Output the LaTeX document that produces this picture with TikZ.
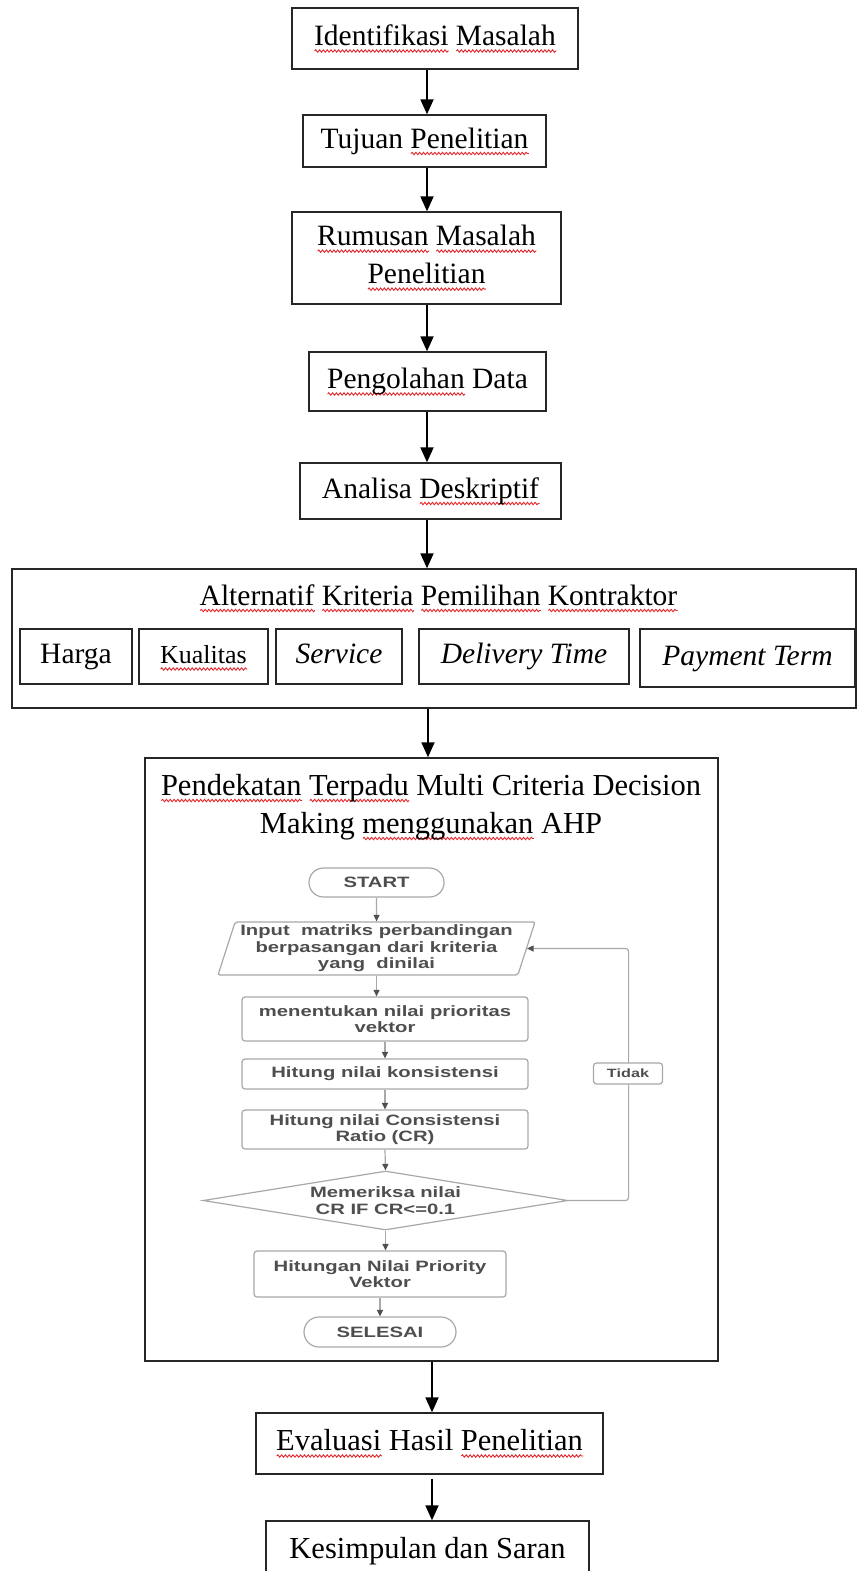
\documentclass[tikz,border=0pt]{standalone}
\usepackage{fontspec}
\setmainfont{Liberation Serif}
\newfontfamily\flowfont[FakeStretch=1.35]{Liberation Sans}
\usetikzlibrary{arrows.meta,shapes.geometric,calc,decorations.pathmorphing}

\definecolor{squig}{HTML}{E3262B}
\definecolor{flowtext}{HTML}{4E4E4E}
\definecolor{flowline}{HTML}{A8A8A8}
\definecolor{flowhead}{HTML}{505050}

% red wavy underline used on the spell-flagged words
\newlength\sqw
\newcommand\sq[1]{\settowidth\sqw{#1}\makebox[0pt][l]{\raisebox{-5.5pt}{\tikz[baseline=0pt]
  \draw[squig, line width=0.9pt, decorate, decoration={snake, amplitude=1.2pt, segment length=3.8pt}]
  (0pt,0pt) -- (\sqw,0pt);}}#1}
\newcommand\mainsize{\fontsize{29.5}{38}\selectfont}
\newcommand\lowsize{\fontsize{30.5}{38}\selectfont}
\newcommand\flowsize{\flowfont\bfseries\fontsize{15}{16.5}\selectfont}

\begin{document}
\begin{tikzpicture}[x=1pt,y=-1pt,
  mainbox/.style={draw=black!85, line width=1.3pt, inner sep=0pt, font=\mainsize, align=center},
  oneline/.style={text height=20pt, text depth=6pt},
  marrow/.style={line width=1.8pt, -{Triangle[length=15pt,width=13pt]}},
  fbox/.style={draw=flowline, line width=1.2pt, rounded corners=3pt, inner sep=0pt,
    font=\flowsize, text=flowtext, align=center},
  farrow/.style={draw=flowline, line width=1.2pt, -{Triangle[length=6.5pt,width=6pt,color=flowhead]}}
]
\useasboundingbox (0,0) rectangle (857,1571);

% axes of the main arrow column
\coordinate (axisA) at (427,0);
\coordinate (axisB) at (428,0);
\coordinate (axisC) at (432,0);

% ---------- main steps ----------
\node[mainbox, oneline, minimum width=286pt, minimum height=61pt] (n1) at (435,38.5)
  {\sq{Identifikasi} \sq{Masalah}};
\node[mainbox, oneline, minimum width=243pt, minimum height=52pt] (n2) at (424.5,141)
  {Tujuan \sq{Penelitian}};
\node[mainbox, minimum width=269pt, minimum height=92pt] (n3) at (426.5,258)
  {\sq{Rumusan} \sq{Masalah}\\\sq{Penelitian}};
\node[mainbox, oneline, minimum width=237pt, minimum height=59pt] (n4) at (427.5,381.5)
  {\sq{Pengolahan} Data};
\node[mainbox, oneline, minimum width=261pt, minimum height=56pt] (n5) at (430.5,491)
  {Analisa \sq{Deskriptif}};

% criteria group
\node[mainbox, minimum width=844pt, minimum height=139pt] (n6) at (434,638.5) {};
\node[font=\mainsize, oneline, inner sep=0pt] (kri) at (438.5,598)
  {\sq{Alternatif} \sq{Kriteria} \sq{Pemilihan} \sq{Kontraktor}};
\node[mainbox, oneline, minimum width=112pt, minimum height=55pt] (c1) at (76,656.5) {Harga};
\node[mainbox, oneline, minimum width=129pt, minimum height=55pt, font=\fontsize{26}{30}\selectfont] (c2) at (203.5,656.5) {\sq{Kualitas}};
\node[mainbox, oneline, minimum width=126pt, minimum height=55pt] (c3) at (339,656.5) {\textit{Service}};
\node[mainbox, oneline, minimum width=210pt, minimum height=55pt] (c4) at (524,656.5) {\textit{Delivery Time}};
\node[mainbox, oneline, minimum width=215pt, minimum height=58pt] (c5) at (747.5,658) {\textit{Payment Term}};

% AHP group
\node[mainbox, line width=1.5pt, minimum width=573pt, minimum height=603pt] (n7) at (431.5,1059.5) {};
\node[font=\lowsize, align=center, inner sep=0pt] (ahpt) at (431,807)
  {\sq{Pendekatan} \sq{Terpadu} Multi Criteria Decision\\Making \sq{menggunakan} AHP};

\node[mainbox, oneline, font=\lowsize, minimum width=347pt, minimum height=61pt] (n8) at (429.5,1443.5)
  {\sq{Evaluasi} Hasil \sq{Penelitian}};
\node[mainbox, oneline, font=\lowsize, minimum width=323pt, minimum height=60pt] (n9) at (427.5,1551)
  {Kesimpulan dan Saran};

% ---------- main arrows ----------
\draw[marrow] (n1.south -| axisA) -- (n2.north -| axisA);
\draw[marrow] (n2.south -| axisA) -- (n3.north -| axisA);
\draw[marrow] (n3.south -| axisA) -- (n4.north -| axisA);
\draw[marrow] (n4.south -| axisA) -- (n5.north -| axisA);
\draw[marrow] (n5.south -| axisA) -- (n6.north -| axisA);
\draw[marrow] (n6.south -| axisB) -- (n7.north -| axisB);
\draw[marrow] (n7.south -| axisC) -- (n8.north -| axisC);
\draw[marrow, shorten <=4pt] (n8.south -| axisC) -- (n9.north -| axisC);

% ---------- AHP procedure ----------
\node[fbox, rounded corners=14.5pt, minimum width=135pt, minimum height=29pt] (start) at (376.5,882.5) {START};
\node[fbox, trapezium, trapezium left angle=70, trapezium right angle=110, trapezium stretches body,
  rounded corners=2pt, minimum width=317pt, minimum height=53pt] (inp) at (376.5,948.5)
  {Input\ \ matriks perbandingan\\berpasangan dari kriteria\\yang\ \ dinilai};
\node[fbox, minimum width=286pt, minimum height=44pt] (ment) at (385,1019)
  {menentukan nilai prioritas\\vektor};
\node[fbox, minimum width=286pt, minimum height=30pt] (kons) at (385,1074)
  {Hitung nilai konsistensi};
\node[fbox, minimum width=286pt, minimum height=39pt] (crr) at (385,1129.5)
  {Hitung nilai Consistensi\\Ratio (CR)};
\node[fbox, diamond, aspect=6.2, rounded corners=0pt, minimum width=365pt, minimum height=59pt] (dia) at (385.5,1200.5)
  {Memeriksa nilai\\CR IF CR<=0.1};
\node[fbox, minimum width=252pt, minimum height=46pt] (hit) at (380,1274)
  {Hitungan Nilai Priority\\Vektor};
\node[fbox, rounded corners=15pt, minimum width=152pt, minimum height=30pt] (end) at (380,1332) {SELESAI};

\draw[farrow] (start.south) -- (inp.north);
\draw[farrow] (inp.south) -- (inp.south |- ment.north);
\draw[farrow] (ment.south) -- (kons.north);
\draw[farrow] (kons.south) -- (crr.north);
\draw[farrow] (crr.south) -- (dia.north);
\draw[farrow] (dia.south) -- (dia.south |- hit.north);
\draw[farrow] (hit.south) -- (end.north);
\draw[farrow, rounded corners=3pt] (dia.east) -- ++(60,0) |- (inp.east);
\node[fbox, fill=white, font=\flowfont\bfseries\fontsize{12}{14}\selectfont, minimum width=69pt, minimum height=21pt] (tidak) at (628,1073.5) {Tidak};

\end{tikzpicture}
\end{document}
